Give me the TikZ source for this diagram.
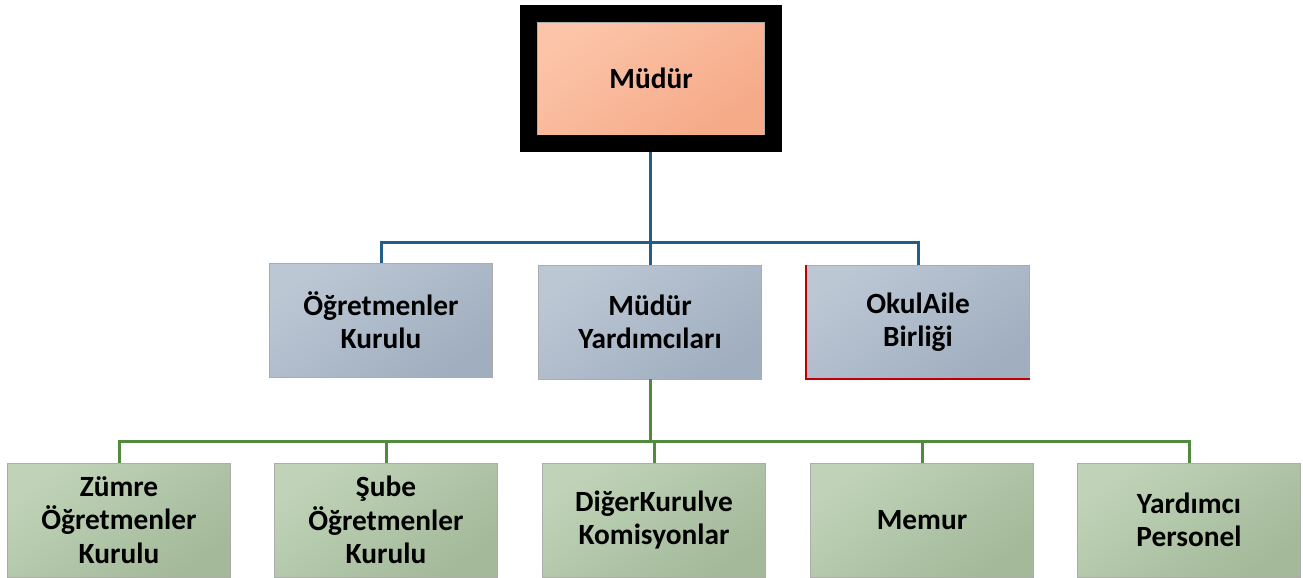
\documentclass[tikz,border=0pt]{standalone}
\usepackage{fontspec}
\setmainfont{Carlito}
\usepackage{tikz}
\usepackage{xcolor}
\definecolor{salmon-light}{HTML}{FCC4A8}
\definecolor{salmon-dark}{HTML}{F5AA88}
\definecolor{slate-light}{HTML}{BCC7D4}
\definecolor{slate-dark}{HTML}{A0AEBF}
\definecolor{sage-light}{HTML}{C0D3B8}
\definecolor{sage-dark}{HTML}{A3B999}
\definecolor{link-blue}{HTML}{215E88}
\definecolor{link-green}{HTML}{528A3E}
\definecolor{edge-red}{HTML}{C00000}
\tikzset{
    org-box/.style = {draw=gray!65, thin, rectangle, align=center, inner sep=2pt,
        minimum width=167.25pt, minimum height=85.5pt,
        font=\fontsize{22}{25}\selectfont\bfseries},
    head-box/.style = {org-box, top color=salmon-light, bottom color=salmon-dark, shading angle=35,
        minimum width=170.25pt, minimum height=84.75pt},
    mid-box/.style = {org-box, top color=slate-light, bottom color=slate-dark, shading angle=35},
    low-box/.style = {org-box, top color=sage-light, bottom color=sage-dark, shading angle=35},
    blue-link/.style = {draw=link-blue, line width=2.25pt},
    green-link/.style = {draw=link-green, line width=2.25pt},
}

\begin{document}
\begin{tikzpicture}[x=0.75pt, y=-0.75pt]
\useasboundingbox (0,0) rectangle (1303,578);

\node [head-box] (mudur) at (651,78.5) {Müdür};
\draw [line width=12.75pt] ([shift={(-8.5,-8.5)}]mudur.north west) rectangle ([shift={(8.5,8.5)}]mudur.south east);
\coordinate (mudur-foot) at ([yshift=-12.75pt]mudur.south);

\node [mid-box] (ogretmenler) at (381,320) {Öğretmenler\\Kurulu};
\node [mid-box] (yardimcilar) at (650,322) {Müdür\\Yardımcıları};
\node [mid-box] (okulaile) at (918,322) {OkulAile\\Birliği};
\draw [draw=edge-red, line width=1.5pt] (okulaile.north west) -- (okulaile.south west) -- (okulaile.south east);

\node [low-box] (zumre) at (119,520) {Zümre\\Öğretmenler\\Kurulu};
\node [low-box] (sube) at (386,520) {Şube\\Öğretmenler\\Kurulu};
\node [low-box] (diger) at (654,520) {DiğerKurulve\\Komisyonlar};
\node [low-box] (memur) at (922,520) {Memur};
\node [low-box] (personel) at (1189,520) {Yardımcı\\Personel};

\coordinate (bus-top) at (650,242);
\draw [blue-link] (mudur-foot -| bus-top) -- (bus-top);
\draw [blue-link] (ogretmenler.north) |- (bus-top) -| (okulaile.north);
\draw [blue-link] (bus-top) -- (yardimcilar.north);

\coordinate (bus-low) at (650,441);
\draw [green-link] (yardimcilar.south) -- (bus-low);
\draw [green-link] (zumre.north) |- (bus-low) -| (personel.north);
\draw [green-link] (sube.north) -- (sube.north |- bus-low);
\draw [green-link] (diger.north) -- (diger.north |- bus-low);
\draw [green-link] (memur.north) -- (memur.north |- bus-low);
\end{tikzpicture}
\end{document}
